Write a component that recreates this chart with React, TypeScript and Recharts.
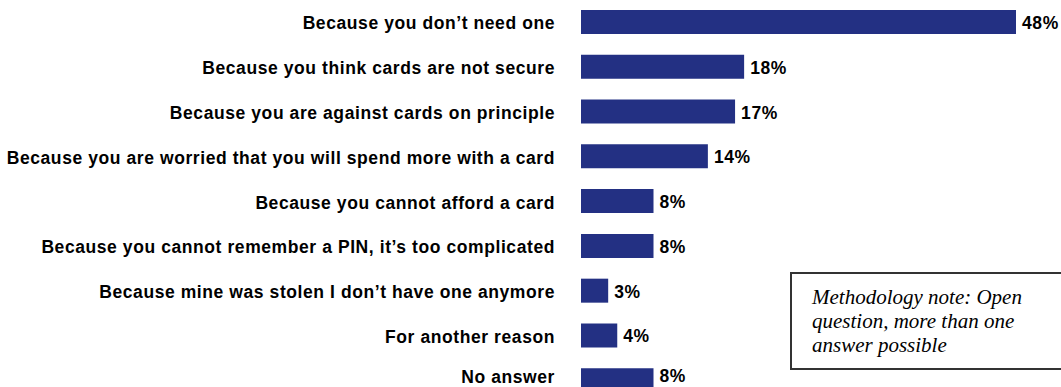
import { BarChart, Bar, XAxis, YAxis, LabelList } from 'recharts'

const reasons = [
  'Because you don\u2019t need one',
  'Because you think cards are not secure',
  'Because you are against cards on principle',
  'Because you are worried that you will spend more with a card',
  'Because you cannot afford a card',
  'Because you cannot remember a PIN, it\u2019s too complicated',
  'Because mine was stolen I don\u2019t have one anymore',
  'For another reason',
  'No answer',
]

const shares = [48, 18, 17, 14, 8, 8, 3, 4, 8]

const data = reasons.map((reason, i) => ({ reason, value: shares[i] }))

const BAR_COLOR = '#233083'
const FONT = '"Liberation Sans", Arial, sans-serif'

function ReasonTick(props: any) {
  const { x, y, payload } = props
  // keep the last label inside the picture, like the source does
  const baseline = Math.min(y + 7, 383)
  return (
    <text
      x={x - 18}
      y={baseline}
      textAnchor="end"
      fontFamily={FONT}
      fontWeight="bold"
      fontSize={17.5}
      letterSpacing={0.58}
      fill="#000"
    >
      {payload.value}
    </text>
  )
}

function ValueLabel(props: any) {
  const { x, y, width, height, value } = props
  const baseline = Math.min(y + height / 2 + 7, 382)
  return (
    <text
      x={x + width + 6}
      y={baseline}
      fontFamily={FONT}
      fontWeight="bold"
      fontSize={17.5}
      letterSpacing={0.58}
      fill="#000"
    >
      {`${value}%`}
    </text>
  )
}

export default function App() {
  return (
    <div style={{ position: 'absolute', left: 0, top: 0, width: 1061, height: 387, overflow: 'hidden', background: '#fff' }}>
      <BarChart
        width={1061}
        height={403}
        data={data}
        layout="vertical"
        margin={{ top: 0, right: 45, bottom: 0, left: 0 }}
        barCategoryGap={0}
      >
        <XAxis type="number" domain={[0, 48]} hide />
        <YAxis
          type="category"
          dataKey="reason"
          width={581}
          axisLine={false}
          tickLine={false}
          tick={<ReasonTick />}
          interval={0}
        />
        <Bar dataKey="value" fill={BAR_COLOR} barSize={24} isAnimationActive={false}>
          <LabelList dataKey="value" content={<ValueLabel />} />
        </Bar>
      </BarChart>
      <div
        style={{
          position: 'absolute',
          left: 790,
          top: 272,
          width: 300,
          height: 98,
          border: '2px solid #333',
          boxSizing: 'border-box',
          padding: '11px 0 0 20px',
          fontFamily: '"Liberation Serif", "Times New Roman", serif',
          fontStyle: 'italic',
          fontSize: 21,
          lineHeight: '24px',
          color: '#000',
        }}
      >
        Methodology note: Open
        <br />
        question, more than one
        <br />
        answer possible
      </div>
    </div>
  )
}
